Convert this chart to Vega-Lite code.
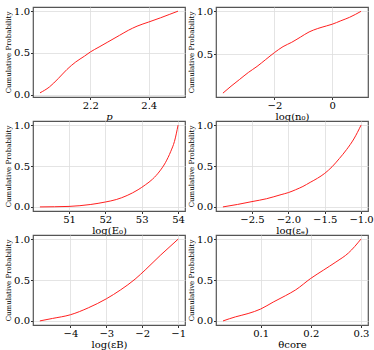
{
  "$schema": "https://vega.github.io/schema/vega-lite/v6.json",
  "padding": {"left": 3, "top": 5, "right": 0, "bottom": 0},
  "bounds": "flush",
  "spacing": {"row": 24, "column": 31},
  "columns": 2,
  "datasets": {
    "p": [
      {"x": 2.028, "y": 0.02}, {"x": 2.06, "y": 0.09}, {"x": 2.09, "y": 0.19}, {"x": 2.12, "y": 0.30},
      {"x": 2.15, "y": 0.39}, {"x": 2.18, "y": 0.46}, {"x": 2.20, "y": 0.51}, {"x": 2.23, "y": 0.57},
      {"x": 2.26, "y": 0.63}, {"x": 2.30, "y": 0.71}, {"x": 2.33, "y": 0.77}, {"x": 2.36, "y": 0.82},
      {"x": 2.40, "y": 0.87}, {"x": 2.44, "y": 0.92}, {"x": 2.47, "y": 0.96}, {"x": 2.50, "y": 1.0}
    ],
    "n0": [
      {"x": -3.78, "y": 0.05}, {"x": -3.5, "y": 0.13}, {"x": -3.2, "y": 0.21}, {"x": -2.9, "y": 0.29},
      {"x": -2.6, "y": 0.36}, {"x": -2.3, "y": 0.44}, {"x": -2.0, "y": 0.52}, {"x": -1.7, "y": 0.59},
      {"x": -1.4, "y": 0.64}, {"x": -1.1, "y": 0.70}, {"x": -0.8, "y": 0.76}, {"x": -0.5, "y": 0.80},
      {"x": -0.2, "y": 0.83}, {"x": 0.0, "y": 0.85}, {"x": 0.3, "y": 0.89}, {"x": 0.6, "y": 0.93},
      {"x": 1.0, "y": 1.0}
    ],
    "E0": [
      {"x": 50.2, "y": 0.0}, {"x": 50.6, "y": 0.002}, {"x": 51.0, "y": 0.006}, {"x": 51.3, "y": 0.015},
      {"x": 51.6, "y": 0.03}, {"x": 52.0, "y": 0.06}, {"x": 52.3, "y": 0.09}, {"x": 52.6, "y": 0.14},
      {"x": 52.9, "y": 0.21}, {"x": 53.1, "y": 0.27}, {"x": 53.3, "y": 0.34}, {"x": 53.5, "y": 0.44},
      {"x": 53.65, "y": 0.54}, {"x": 53.8, "y": 0.68}, {"x": 53.9, "y": 0.80}, {"x": 54.0, "y": 1.0}
    ],
    "ee": [
      {"x": -2.9, "y": 0.0}, {"x": -2.7, "y": 0.03}, {"x": -2.5, "y": 0.065}, {"x": -2.3, "y": 0.10},
      {"x": -2.1, "y": 0.15}, {"x": -2.0, "y": 0.175}, {"x": -1.9, "y": 0.21}, {"x": -1.8, "y": 0.25},
      {"x": -1.7, "y": 0.30}, {"x": -1.6, "y": 0.35}, {"x": -1.5, "y": 0.41}, {"x": -1.4, "y": 0.49},
      {"x": -1.3, "y": 0.59}, {"x": -1.2, "y": 0.70}, {"x": -1.1, "y": 0.83}, {"x": -1.0, "y": 1.0}
    ],
    "eB": [
      {"x": -4.85, "y": 0.0}, {"x": -4.5, "y": 0.03}, {"x": -4.0, "y": 0.075}, {"x": -3.5, "y": 0.16},
      {"x": -3.0, "y": 0.27}, {"x": -2.6, "y": 0.38}, {"x": -2.2, "y": 0.51}, {"x": -1.9, "y": 0.63},
      {"x": -1.5, "y": 0.80}, {"x": -1.2, "y": 0.92}, {"x": -1.0, "y": 1.0}
    ],
    "th": [
      {"x": 0.025, "y": 0.0}, {"x": 0.05, "y": 0.05}, {"x": 0.075, "y": 0.09}, {"x": 0.1, "y": 0.145},
      {"x": 0.125, "y": 0.23}, {"x": 0.15, "y": 0.31}, {"x": 0.17, "y": 0.38}, {"x": 0.2, "y": 0.52},
      {"x": 0.225, "y": 0.62}, {"x": 0.25, "y": 0.72}, {"x": 0.275, "y": 0.83}, {"x": 0.3, "y": 1.0}
    ]
  },
  "concat": [
    {
      "width": 152, "height": 90,
      "data": {"name": "p"},
      "mark": {"type": "line", "color": "#ff2020", "strokeWidth": 1, "interpolate": "monotone"},
      "encoding": {
        "x": {"field": "x", "type": "quantitative", "scale": {"domain": [2.004, 2.524], "nice": false, "zero": false},
              "axis": {"values": [2.2, 2.4], "format": ".1f", "title": "p", "titleFontStyle": "italic"}},
        "y": {"field": "y", "type": "quantitative", "scale": {"domain": [-0.03, 1.05], "nice": false},
              "axis": {"values": [0, 0.5, 1], "format": ".1f", "title": "Cumulative Probability"}}
      }
    },
    {
      "width": 152, "height": 90,
      "data": {"name": "n0"},
      "mark": {"type": "line", "color": "#ff2020", "strokeWidth": 1, "interpolate": "monotone"},
      "encoding": {
        "x": {"field": "x", "type": "quantitative", "scale": {"domain": [-4.02, 1.24], "nice": false, "zero": false},
              "axis": {"values": [-2, 0], "format": "d", "title": "log(n₀)"}},
        "y": {"field": "y", "type": "quantitative", "scale": {"domain": [0.005, 1.05], "nice": false, "zero": false},
              "axis": {"values": [0.5, 1], "format": ".1f", "title": "Cumulative Probability"}}
      }
    },
    {
      "width": 152, "height": 90,
      "data": {"name": "E0"},
      "mark": {"type": "line", "color": "#ff2020", "strokeWidth": 1, "interpolate": "monotone"},
      "encoding": {
        "x": {"field": "x", "type": "quantitative", "scale": {"domain": [50.01, 54.19], "nice": false, "zero": false},
              "axis": {"values": [51, 52, 53, 54], "format": "d", "title": "log(E₀)"}},
        "y": {"field": "y", "type": "quantitative", "scale": {"domain": [-0.05, 1.05], "nice": false},
              "axis": {"values": [0, 0.5, 1], "format": ".1f", "title": "Cumulative Probability"}}
      }
    },
    {
      "width": 152, "height": 90,
      "data": {"name": "ee"},
      "mark": {"type": "line", "color": "#ff2020", "strokeWidth": 1, "interpolate": "monotone"},
      "encoding": {
        "x": {"field": "x", "type": "quantitative", "scale": {"domain": [-2.995, -0.905], "nice": false, "zero": false},
              "axis": {"values": [-2.5, -2, -1.5, -1], "format": ".1f", "title": "log(εₑ)"}},
        "y": {"field": "y", "type": "quantitative", "scale": {"domain": [-0.05, 1.05], "nice": false},
              "axis": {"values": [0, 0.5, 1], "format": ".1f", "title": "Cumulative Probability"}}
      }
    },
    {
      "width": 152, "height": 90,
      "data": {"name": "eB"},
      "mark": {"type": "line", "color": "#ff2020", "strokeWidth": 1, "interpolate": "monotone"},
      "encoding": {
        "x": {"field": "x", "type": "quantitative", "scale": {"domain": [-5.04, -0.81], "nice": false, "zero": false},
              "axis": {"values": [-4, -3, -2, -1], "format": "d", "title": "log(εB)"}},
        "y": {"field": "y", "type": "quantitative", "scale": {"domain": [-0.05, 1.05], "nice": false},
              "axis": {"values": [0, 0.5, 1], "format": ".1f", "title": "Cumulative Probability"}}
      }
    },
    {
      "width": 152, "height": 90,
      "data": {"name": "th"},
      "mark": {"type": "line", "color": "#ff2020", "strokeWidth": 1, "interpolate": "monotone"},
      "encoding": {
        "x": {"field": "x", "type": "quantitative", "scale": {"domain": [0.011, 0.314], "nice": false, "zero": false},
              "axis": {"values": [0.1, 0.2, 0.3], "format": ".1f", "title": "θcore"}},
        "y": {"field": "y", "type": "quantitative", "scale": {"domain": [-0.05, 1.05], "nice": false},
              "axis": {"values": [0, 0.5, 1], "format": ".1f", "title": "Cumulative Probability"}}
      }
    }
  ],
  "config": {
    "view": {"stroke": "#555555", "strokeWidth": 1.2},
    "axis": {
      "domain": false, "grid": true, "gridColor": "#dddddd", "gridWidth": 0.8,
      "tickColor": "#333333", "tickSize": 2.5, "labelPadding": 1,
      "labelFont": "DejaVu Serif", "labelFontSize": 10, "labelColor": "#000000",
      "titleFont": "DejaVu Serif", "titleFontWeight": "normal", "titleColor": "#000000"
    },
    "axisY": {"titleFontSize": 7, "titlePadding": 2},
    "axisX": {"titleFontSize": 10, "titlePadding": 1}
  }
}
